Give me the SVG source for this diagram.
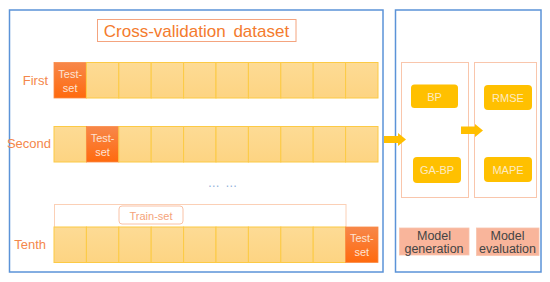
<svg xmlns="http://www.w3.org/2000/svg" width="550" height="282" viewBox="0 0 550 282">
<defs>
<linearGradient id="gCell" x1="0" y1="0" x2="0" y2="1">
<stop offset="0" stop-color="#fddb95"/>
<stop offset="1" stop-color="#fdd482"/>
</linearGradient>
<linearGradient id="gTest" x1="0" y1="0" x2="0" y2="1">
<stop offset="0" stop-color="#f7874a"/>
<stop offset="1" stop-color="#ff6a0e"/>
</linearGradient>
<g id="cell"><rect width="32.4" height="35.5" fill="url(#gCell)" stroke="#fcca45" stroke-width="1"/></g>
<g id="test"><rect width="32.4" height="35.5" fill="url(#gTest)" stroke="#fb8a45" stroke-width="0.8"/></g>
</defs>
<style>
text{font-family:"Liberation Sans",Arial,sans-serif}
.panel{fill:none;stroke:#5b93d8;stroke-width:1.5}
.row{font-size:13px;fill:#f4874b}
.tt{font-size:11px;fill:#fde3d3;text-anchor:middle}
.btn{fill:#ffc000}
.bt{font-size:11px;fill:#fdebc4;text-anchor:middle}
.sub{fill:none;stroke:#f9c6ac;stroke-width:1}
.lab{fill:#f9b59b;stroke:#f7c4ad;stroke-width:0.8}
.lt{font-size:12.5px;fill:#444;text-anchor:middle}
.arr{fill:#ffbf00}
</style>
<rect width="550" height="282" fill="#fff"/>
<g id="left-panel">
<rect class="panel" x="9.5" y="10" width="373.5" height="262"/>
</g>
<g id="title">
<rect x="97.5" y="19.5" width="198.5" height="22" fill="#fff" stroke="#f4a47f" stroke-width="1"/>
<text x="196.5" y="37" font-size="17" fill="#f47b2d" text-anchor="middle" word-spacing="3">Cross-validation dataset</text>
</g>
<g id="row-first">
<text class="row" x="48" y="85" text-anchor="end">First</text>
<use href="#test" x="54" y="62.5"/>
<use href="#cell" x="86.4" y="62.5"/><use href="#cell" x="118.8" y="62.5"/><use href="#cell" x="151.2" y="62.5"/><use href="#cell" x="183.6" y="62.5"/><use href="#cell" x="216" y="62.5"/><use href="#cell" x="248.4" y="62.5"/><use href="#cell" x="280.8" y="62.5"/><use href="#cell" x="313.2" y="62.5"/><use href="#cell" x="345.6" y="62.5"/>
<text class="tt" x="70.2" y="78">Test-</text><text class="tt" x="70.2" y="92">set</text>
</g>
<g id="row-second">
<text class="row" x="51" y="148" text-anchor="end">Second</text>
<use href="#cell" x="54" y="126.5"/>
<use href="#test" x="86.4" y="126.5"/>
<use href="#cell" x="118.8" y="126.5"/><use href="#cell" x="151.2" y="126.5"/><use href="#cell" x="183.6" y="126.5"/><use href="#cell" x="216" y="126.5"/><use href="#cell" x="248.4" y="126.5"/><use href="#cell" x="280.8" y="126.5"/><use href="#cell" x="313.2" y="126.5"/><use href="#cell" x="345.6" y="126.5"/>
<text class="tt" x="102.6" y="142">Test-</text><text class="tt" x="102.6" y="156">set</text>
</g>
<g id="ellipsis">
<text x="223" y="187" font-size="12" fill="#8fb0da" text-anchor="middle" letter-spacing="1">… …</text>
</g>
<g id="train-set">
<rect x="54.5" y="204.5" width="291.5" height="23" fill="#fff" stroke="#fbd0b6" stroke-width="1"/>
<rect x="119" y="206" width="64" height="18" rx="3" fill="#fff" stroke="#f9c2a6" stroke-width="1"/>
<text x="151" y="219.5" font-size="11" fill="#f5a37a" text-anchor="middle">Train-set</text>
</g>
<g id="row-tenth">
<text class="row" x="46" y="249" text-anchor="end">Tenth</text>
<use href="#cell" x="54" y="227"/><use href="#cell" x="86.4" y="227"/><use href="#cell" x="118.8" y="227"/><use href="#cell" x="151.2" y="227"/><use href="#cell" x="183.6" y="227"/><use href="#cell" x="216" y="227"/><use href="#cell" x="248.4" y="227"/><use href="#cell" x="280.8" y="227"/><use href="#cell" x="313.2" y="227"/>
<use href="#test" x="345.6" y="227"/>
<text class="tt" x="361.8" y="242">Test-</text><text class="tt" x="361.8" y="256">set</text>
</g>
<g id="right-panel">
<rect class="panel" x="395.5" y="10" width="145.5" height="262"/>
</g>
<g id="model-generation">
<rect class="sub" x="401.5" y="62.5" width="67" height="135"/>
<rect class="lab" x="399.5" y="228" width="69.5" height="27"/>
<text class="lt" x="434" y="239.5">Model</text>
<text class="lt" x="434" y="253">generation</text>
</g>
<g id="model-evaluation">
<rect class="sub" x="474.5" y="62.5" width="62" height="135"/>
<rect class="lab" x="476.5" y="228" width="62.5" height="27.5"/>
<text class="lt" x="507.5" y="239.5">Model</text>
<text class="lt" x="507.5" y="253">evaluation</text>
</g>
<g id="bp"><rect class="btn" x="411" y="84.5" width="47" height="23.5" rx="3.5"/><text class="bt" x="434.5" y="100.5">BP</text></g>
<g id="ga-bp"><rect class="btn" x="413" y="157" width="48" height="26" rx="4"/><text class="bt" x="437" y="174">GA-BP</text></g>
<g id="rmse"><rect class="btn" x="484" y="85" width="48" height="25" rx="4"/><text class="bt" x="508" y="101.5">RMSE</text></g>
<g id="mape"><rect class="btn" x="484" y="157" width="48" height="25" rx="4"/><text class="bt" x="508" y="173.5">MAPE</text></g>
<g id="connectors">
<polygon class="arr" points="384,136 398,136 398,133 406,139.5 398,146 398,143 384,143"/>
<polygon class="arr" points="461,126.5 475,126.5 475,124 483,130.5 475,137 475,134 461,134"/>
</g>
</svg>
